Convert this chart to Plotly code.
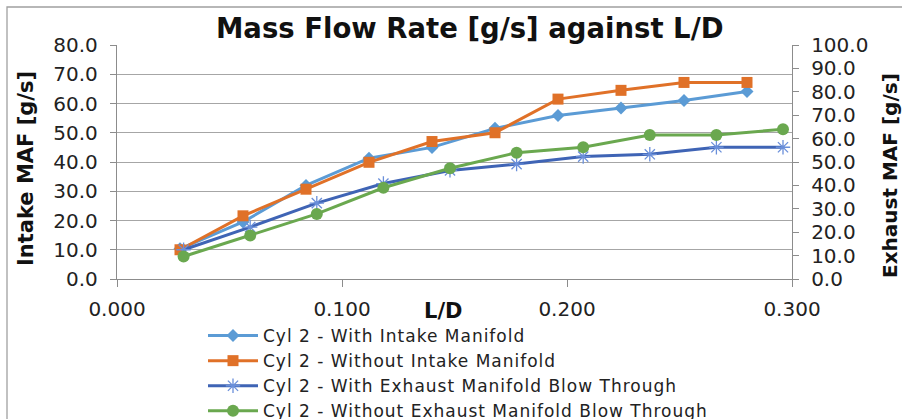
import plotly.graph_objects as go

# L/D values
ld_intake = [0.028, 0.056, 0.084, 0.112, 0.140, 0.168, 0.196, 0.224, 0.252, 0.280]
ld_exhaust = [0.0296, 0.0592, 0.0888, 0.1184, 0.148, 0.1776, 0.2072, 0.2368, 0.2664, 0.296]

# Intake MAF [g/s] (left axis)
with_intake = [10.3, 19.5, 32.0, 41.3, 45.0, 51.5, 55.9, 58.5, 61.0, 64.1]
without_intake = [10.0, 21.6, 30.7, 39.9, 47.0, 50.0, 61.5, 64.5, 67.2, 67.2]

# Exhaust MAF [g/s] (right axis)
with_exhaust = [12.5, 22.2, 32.4, 40.8, 46.4, 49.1, 52.3, 53.3, 56.3, 56.3]
without_exhaust = [9.6, 18.6, 27.8, 39.0, 47.3, 54.0, 56.3, 61.5, 61.5, 64.0]

names = [
    "Cyl 2 - With Intake Manifold",
    "Cyl 2 - Without Intake Manifold",
    "Cyl 2 - With Exhaust Manifold Blow Through",
    "Cyl 2 - Without Exhaust Manifold Blow Through",
]

FONT = "DejaVu Sans"
W, H = 902, 419
L, R, T, B = 117, 110, 45, 140
pw, ph = W - L - R, H - T - B


def px_x(p):
    return (p - L) / pw


def px_y(p):
    return (H - B - p) / ph


def spaced(s):
    return '<span style="letter-spacing:1px">' + s + "</span>"


fig = go.Figure()
fig.add_trace(go.Scatter(
    x=ld_intake, y=with_intake, name=spaced(names[0]), mode="lines+markers",
    line=dict(color="#5B9BD5", width=3),
    marker=dict(symbol="diamond", size=10, color="#5B9BD5"),
))
fig.add_trace(go.Scatter(
    x=ld_intake, y=without_intake, name=spaced(names[1]), mode="lines+markers",
    line=dict(color="#E07128", width=3),
    marker=dict(symbol="square", size=11, color="#E07128"),
))
fig.add_trace(go.Scatter(
    x=ld_exhaust, y=with_exhaust, name=spaced(names[2]), mode="lines+markers", yaxis="y2",
    line=dict(color="#3F64B5", width=3),
    marker=dict(symbol="asterisk-open", size=12, color="#6A8FDA", line=dict(width=1.3, color="#6A8FDA")),
))
fig.add_trace(go.Scatter(
    x=ld_exhaust, y=without_exhaust, name=spaced(names[3]), mode="lines+markers", yaxis="y2",
    line=dict(color="#6AA84F", width=3),
    marker=dict(symbol="circle", size=12, color="#6AA84F"),
))

tickfont = dict(family=FONT, size=20, color="#222222")
fig.update_layout(
    width=W, height=H,
    margin=dict(l=L, r=R, t=T, b=B, pad=0, autoexpand=False),
    paper_bgcolor="white", plot_bgcolor="white",
    showlegend=True,
    legend=dict(
        x=px_x(203), xanchor="left", y=px_y(318), yanchor="top",
        font=dict(family=FONT, size=17, color="#222222"),
        tracegroupgap=0, itemwidth=50, bgcolor="rgba(0,0,0,0)",
    ),
    xaxis=dict(
        range=[0, 0.3], dtick=0.1, tick0=0, tickformat=".3f",
        showgrid=False, zeroline=False,
        showline=True, linecolor="#8C8C8C", linewidth=1.3,
        ticks="outside", ticklen=7, tickcolor="#8C8C8C", ticklabelstandoff=5,
        tickfont=tickfont,
    ),
    yaxis=dict(
        range=[0, 80], dtick=10, tickformat=".1f",
        showgrid=True, gridcolor="#A6A6A6", gridwidth=1.3, zeroline=False,
        showline=True, linecolor="#8C8C8C", linewidth=1.3,
        ticks="outside", ticklen=6, tickcolor="#8C8C8C", ticklabelstandoff=8,
        tickfont=tickfont,
    ),
    yaxis2=dict(
        range=[0, 100], dtick=10, tickformat=".1f", overlaying="y", side="right",
        showgrid=False, zeroline=False,
        showline=True, linecolor="#8C8C8C", linewidth=1.3,
        ticks="outside", ticklen=6, tickcolor="#8C8C8C", ticklabelstandoff=8,
        tickfont=tickfont,
    ),
    annotations=[
        dict(text="<b>Mass Flow Rate [g/s] against L/D</b>", x=px_x(470), y=px_y(28),
             xref="paper", yref="paper", showarrow=False, xanchor="center", yanchor="middle",
             font=dict(family=FONT, size=27.5, color="#111111")),
        dict(text="<b>Intake MAF [g/s]</b>", x=px_x(26), y=px_y(169), textangle=-90,
             xref="paper", yref="paper", showarrow=False, xanchor="center", yanchor="middle",
             font=dict(family=FONT, size=21, color="#111111")),
        dict(text="<b>Exhaust MAF [g/s]</b>", x=px_x(890), y=px_y(175), textangle=-90,
             xref="paper", yref="paper", showarrow=False, xanchor="center", yanchor="middle",
             font=dict(family=FONT, size=20, color="#111111")),
        dict(text="<b>L/D</b>", x=px_x(443), y=px_y(311),
             xref="paper", yref="paper", showarrow=False, xanchor="center", yanchor="middle",
             font=dict(family=FONT, size=21, color="#111111")),
    ],
    shapes=[
        dict(type="rect", xref="paper", yref="paper",
             x0=px_x(7), x1=px_x(1000), y0=px_y(600), y1=px_y(7),
             line=dict(color="#A0A0A0", width=1.3), layer="below"),
    ],
)

fig.write_html("out.html")
